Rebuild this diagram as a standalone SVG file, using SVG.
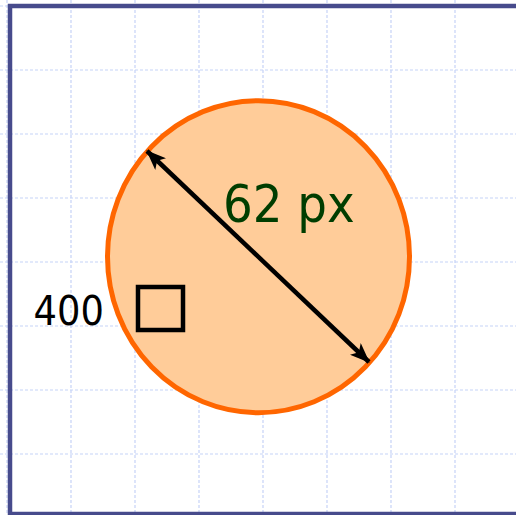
<svg xmlns="http://www.w3.org/2000/svg" width="516" height="515" viewBox="0 0 516 515">
<style>
.grid line{stroke:#c6d3f7;stroke-width:1.2;stroke-dasharray:3 2}
.lbl{font-family:"DejaVu Sans Condensed","DejaVu Sans",sans-serif;font-stretch:condensed}
</style>
<defs>
<marker id="ah" viewBox="0 0 20 16" refX="19" refY="8" markerWidth="20" markerHeight="16" markerUnits="userSpaceOnUse" orient="auto-start-reverse">
<path d="M0,0 L20,8 L0,16 L5,8 Z" fill="#000"/>
</marker>
</defs>
<rect width="516" height="515" fill="#fff"/>
<g class="grid">
<line x1="7" y1="0" x2="7" y2="515"/>
<line x1="71" y1="0" x2="71" y2="515"/>
<line x1="135" y1="0" x2="135" y2="515"/>
<line x1="199" y1="0" x2="199" y2="515"/>
<line x1="263" y1="0" x2="263" y2="515"/>
<line x1="327" y1="0" x2="327" y2="515"/>
<line x1="391" y1="0" x2="391" y2="515"/>
<line x1="455" y1="0" x2="455" y2="515"/>
<line x1="0" y1="6" x2="516" y2="6"/>
<line x1="0" y1="70" x2="516" y2="70"/>
<line x1="0" y1="134" x2="516" y2="134"/>
<line x1="0" y1="198" x2="516" y2="198"/>
<line x1="0" y1="262" x2="516" y2="262"/>
<line x1="0" y1="326" x2="516" y2="326"/>
<line x1="0" y1="390" x2="516" y2="390"/>
<line x1="0" y1="454" x2="516" y2="454"/>
</g>
<rect id="frame" x="10" y="6" width="520" height="508" fill="none" stroke="#474b8c" stroke-width="4.5"/>
<g id="circle">
<ellipse cx="258.5" cy="256.7" rx="151" ry="156" fill="#ffcc99" stroke="#ff6600" stroke-width="5"/>
</g>
<g id="connectors">
<line x1="147" y1="151" x2="369" y2="362" stroke="#000" stroke-width="4.5" marker-start="url(#ah)" marker-end="url(#ah)"/>
</g>
<g id="label-62px">
<text class="lbl" x="223" y="222" font-size="52" fill="#003d00">62 px</text>
</g>
<g id="label-400">
<text class="lbl" x="104" y="325" font-size="41" fill="#000" text-anchor="end">400</text>
</g>
<g id="square">
<rect x="138" y="287" width="45" height="43" fill="none" stroke="#000" stroke-width="4.5"/>
</g>
</svg>
